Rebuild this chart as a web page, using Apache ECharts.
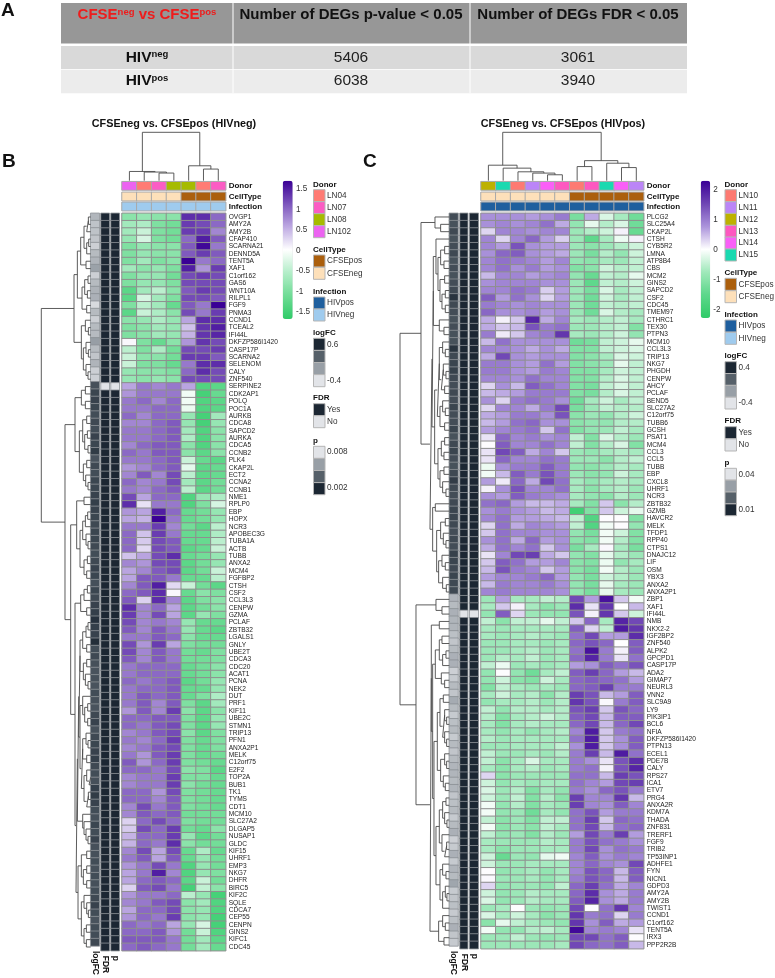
<!DOCTYPE html>
<html><head><meta charset="utf-8">
<style>html,body{margin:0;padding:0;background:#fff}#c{width:775px;height:978px}</style>
<script src="https://cdn.jsdelivr.net/npm/echarts@6/dist/echarts.min.js"></script>
</head><body><div id="c"></div>
<script>
const tableHead=['Number of DEGs p-value < 0.05','Number of DEGs FDR < 0.05'];
const tableRows=[['neg','5406','3061'],['pos','6038','3940']];

const genesB=['OVGP1','AMY2A','AMY2B','CFAP410','SCARNA21','DENND5A','TENT5A','XAF1','C1orf162','GAS6','WNT10A','RILPL1','FGF9','PNMA3','CCND1','TCEAL2','IFI44L','DKFZP586I1420','CASP17P','SCARNA2','SELENOM','CALY','ZNF540','SERPINE2','CDK2AP1','POLQ','POC1A','AURKB','CDCA8','SAPCD2','AURKA','CDCA5','CCNB2','PLK4','CKAP2L','ECT2','CCNA2','CCNB1','NME1','RPLP0','EBP','HOPX','NCR3','APOBEC3G','TUBA1A','ACTB','TUBB','ANXA2','MCM4','FGFBP2','CTSH','CSF2','CCL3L3','CENPW','GZMA','PCLAF','ZBTB32','LGALS1','GNLY','UBE2T','CDCA3','CDC20','ACAT1','PCNA','NEK2','DUT','PRF1','KIF11','UBE2C','STMN1','TRIP13','PFN1','ANXA2P1','MELK','C12orf75','E2F2','TOP2A','BUB1','TK1','TYMS','CDT1','MCM10','SLC27A2','DLGAP5','NUSAP1','GLDC','KIF15','UHRF1','EMP3','NKG7','DHFR','BIRC5','KIF2C','SQLE','CDCA7','CEP55','CENPN','GINS2','KIFC1','CDC45'];
const genesC=['PLCG2','SLC25A4','CKAP2L','CTSH','CYB5R2','LMNA','ATP8B4','CBS','MCM2','GINS2','SAPCD2','CSF2','CDC45','TMEM97','CTHRC1','TEX30','PTPN3','MCM10','CCL3L3','TRIP13','NKG7','PHGDH','CENPW','AHCY','PCLAF','BEND5','SLC27A2','C12orf75','TUBB6','GCSH','PSAT1','MCM4','CCL3','CCL5','TUBB','EBP','CXCL8','UHRF1','NCR3','ZBTB32','GZMB','HAVCR2','MELK','TFDP1','RPP40','CTPS1','DNAJC12','LIF','OSM','YBX3','ANXA2','ANXA2P1','ZBP1','XAF1','IFI44L','NMB','NKX2-2','IGF2BP2','ZNF540','ALPK2','GPCPD1','CASP17P','ADA2','GIMAP7','NEURL3','VNN2','SLC9A9','LY9','PIK3IP1','BCL6','NFIA','DKFZP586I1420','PTPN13','ECEL1','PDE7B','CALY','RPS27','ICA1','ETV7','PRG4','ANXA2R','KDM7A','THADA','ZNF831','TRERF1','FGF9','TRIB2','TP53INP1','ADHFE1','FYN','NICN1','GDPD3','AMY2A','AMY2B','TWIST1','CCND1','C1orf162','TENT5A','IRX3','PPP2R2B'];

const heatB=[
[-.9,-.8,-.9,-.9,1.4,1.4,1],[-.7,-.6,-1,-1.1,1.3,1.2,1],[-.7,-.4,-1,-1.1,1.3,1.3,.8],[-.8,-.3,-1,-1.1,1,1.5,1.1],[-1,-.8,-.9,-.9,1.1,1.65,.9],[-1,-.8,-.9,-.9,1.1,1.3,1.1],[-1,-.7,-1,-.9,1.7,.9,1],[-.7,-.9,-.8,-1,1.5,.7,1.3],[-1,-.8,-.8,-1.1,1.2,1.3,1.2],[-1,-.8,-.8,-1,1.2,1.2,1.2],
[-1.3,-.7,-.5,-.9,1.1,1.3,1.2],[-1.3,-.3,-.7,-1,1.2,1.2,1.1],[-1,-.5,-.7,-1.2,1.1,.9,1.7],[-1.3,-.4,-.6,-.9,1.2,.9,1.3],[-.9,-.8,-.6,-.8,.6,1.4,1.4],[-1,-.9,-.7,-.8,.4,1.35,1.5],[-1,-.9,-.7,-.8,.5,1.35,1.45],[.05,-1,-1.2,-.9,.7,1.35,1.2],[-.5,-1,-.6,-1.1,1.2,1.2,1.3],[-.4,-.9,-.9,-1.1,1.3,1.3,1.1],
[-.4,-1,-1,-1.2,.9,1.4,1.4],[-.8,-.9,-.9,-1,1,1.4,1.2],[-.8,-.9,-.8,-.9,1.2,1.2,1.2],[.6,.9,.8,.9,.6,-1.4,-1.3],[.7,.9,.9,.9,-.1,-1.5,-1.2],[.9,1,.8,1,-.1,-1.4,-1.3],[.9,.9,1,1,-.15,-1.4,-1.3],[1,.8,1,1,-.8,-1.5,-.7],[.8,.8,1,1.1,-.8,-1.5,-.8],[.9,.9,1,1.1,-.7,-1.4,-.9],
[.9,.9,1,1.1,-.6,-1.4,-.9],[.8,1,1.1,1.1,-.9,-1.4,-.9],[1,.9,1.1,1.1,-.9,-1.3,-.9],[.9,.9,1,1.1,-.4,-1.2,-1.3],[.7,.8,1,1.1,-.2,-1.3,-1.2],[.8,1.1,.8,1.2,-.5,-1.3,-1.2],[1,.8,.9,1.2,-.7,-1.3,-1.1],[.9,.8,1,1.1,-.5,-1.3,-1.1],[1.2,.6,1,1,-1.4,-.8,-.6],[1.4,.2,.9,.9,-1.4,-1,-.3],
[.7,.6,1.5,1,-1.2,-1.1,-.8],[.6,.5,1.7,.9,-1.2,-1.1,-.8],[.9,.9,1.3,.8,-1.1,-1.3,-.5],[1,.4,1.3,.9,-1.2,-1.2,-.6],[1,.35,1.2,1.1,-1.2,-1.2,-.5],[1,.25,1.2,1.1,-1.3,-1.2,-.4],[.4,.6,1.2,1.4,-1.2,-1.1,-.8],[.8,.7,1.2,1.2,-1.3,-1.1,-.8],[.6,.8,1.1,1.2,-1.3,-1.1,-.4],[.6,1.1,1.1,.9,-1.2,-1.2,-.5],
[.8,1.1,1.5,.25,-.4,-1.1,-1.3],[1,1.1,1.4,.05,-1.2,-.9,-1],[1.1,.3,1.4,.8,-1.3,-1,-.9],[1.4,.8,1,.6,-1.3,-1.1,-.9],[1.3,.8,1.2,.6,-1.3,-.8,-1],[1.2,.8,.9,.8,-.8,-1.2,-1.2],[1.1,.8,1.1,.9,-.8,-1.2,-1.3],[.9,.9,1.1,1,-.9,-1.2,-1.2],[1.2,.7,1.3,.6,-1,-1.1,-1.1],[1.2,.8,1.1,.9,-1.1,-1.2,-1],
[1.1,.8,1.1,.9,-1.1,-1.1,-1],[.9,1,1,1,-1.2,-1.1,-.9],[.9,1,1,1,-1.2,-1.1,-.9],[1,.9,1,1.1,-1.3,-1.1,-.8],[.9,1,1,1.1,-1.2,-1.2,-.8],[.9,1.1,1,1.1,-1.2,-1,-.6],[.9,1.1,.8,1.1,-1,-1.3,-.7],[.7,1.1,.8,1.3,-.9,-1.3,-.9],[1,1,1.1,1.1,-1,-1.3,-.8],[1,.9,1.1,1.2,-1,-1.3,-.8],
[.8,.9,1.1,1.2,-.9,-1.3,-1],[.9,.8,1,1.3,-1,-1.2,-1],[.8,.9,1.1,1.2,-1,-1.2,-1],[.9,.7,1.1,1.3,-1,-1.2,-1.1],[1.1,.7,1,1.3,-1,-1.1,-1.2],[1,1,.9,1.2,-.9,-1,-1.3],[.8,.9,.9,1.3,-1,-1,-1.2],[.8,.9,.9,1.3,-.9,-1.1,-1.2],[1,1,.7,1.2,-1,-1.1,-1.2],[1,1,.8,1.1,-1,-1.1,-1.2],
[.8,1.2,.9,1.1,-1,-1.1,-1.2],[.8,1.1,1,1.1,-1.1,-1.1,-1.1],[.3,1,1.2,1,-1,-1.1,-1.1],[.35,1.2,1,1.3,-1.1,-1.2,-.9],[.5,1,1,1.3,-.8,-1.3,-1.1],[.5,1,.9,1.4,-.9,-1.1,-1.1],[.8,1.2,.6,1.2,-1.2,-.6,-1.2],[.9,1.1,.6,1.1,-1.2,-.8,-1.1],[.7,.9,1.2,.9,-1.4,-.8,-1.1],[.6,.9,1.5,.8,-1.4,-.8,-1],
[.6,1,1.1,1,-1.3,-.4,-1.1],[.3,1.1,1.2,.9,-1.5,-.45,-.9],[.7,.9,.9,1,-.5,-.8,-1.5],[.8,.9,1.1,1.2,-.9,-.7,-1.4],[.6,1,1,1.2,-.9,-.8,-1.4],[.7,1,.9,1.3,-.9,-.8,-1.5],[1,.9,1,.6,-.8,-.3,-1.5],[1,1,1.1,.7,-1.1,-.4,-1.4],[1.1,1.1,1.1,.9,-1.1,-.7,-1.3],[1,1.1,1,.9,-1.1,-.7,-1.2]];

const heatC=[
[.8,.8,.8,.7,.8,1,-1.2,.6,-.3,-.7,-1.3],[.8,.9,.8,.9,1.1,.6,-.9,-.2,-.6,-.3,-1.3],[.3,.9,.9,.8,.9,.9,-.8,-.6,-.4,.1,-1.4],[.9,.3,.9,1.2,.7,.35,-.8,-1.5,-.7,-.15,.1],[.9,.7,1.4,.8,.7,.7,-.8,-1,-.8,-.6,-.4],[.8,1.2,1.3,.8,.7,.6,-.8,-1.2,-.6,-.9,-.4],[.9,1.1,1,.9,.7,.9,-.9,-1,-.7,-.8,-.5],[.9,1.1,.8,1,.7,.8,-1.1,-1,-.4,-.6,-.5],[.5,.9,.9,.7,.8,.9,-.9,-1.4,-.5,-.6,-.2],[.8,.9,.9,.9,.8,.8,-.8,-1.5,-.5,-.6,-.4],
[.9,.9,1.1,1,.35,.7,-.8,-1.2,-.3,-.7,-.5],[1.3,.7,1.1,.8,.3,.7,-.8,-1.3,-.4,-.7,-.5],[1,.9,.8,.9,.8,.8,-.8,-1.3,-.5,-.6,-.5],[1.2,.8,.8,.9,.7,.8,-.8,-1.3,-.3,-.6,-.7],[.6,.1,.4,1.9,.6,.9,-.7,-.8,-.6,-.5,-.7],[.6,.4,.5,1.4,1,1.1,-.8,-.8,-.6,-.5,-1.1],[1,.15,.4,.9,1,1.7,-.7,-.8,-.6,-.4,-.9],[.5,1.1,.8,.8,.8,.8,-1.3,-1.2,-.5,-.4,-.2],[.9,.9,.8,.6,.8,.6,-1.1,-1.1,-.5,-.4,-.3],[.6,1.5,.8,.7,.8,.8,-1.1,-1,-.7,-.3,-.4],
[1,1,.8,.7,1.1,.7,-1.1,-1,-.8,-.2,-.5],[1,1,.8,.7,1,.9,-1.1,-1.1,-.7,-.4,-.5],[.9,.9,.8,1.1,.9,.9,-1.1,-1.1,-.6,-.3,-.5],[.3,.8,.5,1.3,1.1,.9,-1.1,-1.2,-.5,-.3,-.5],[.5,.6,.7,1,1,1,-1.1,-1.2,-.6,-.3,-.5],[.8,.3,1,1.1,1,.8,-1.3,-.7,-.4,-.7,-.5],[.3,.9,.9,.6,1,1.5,-1.2,-.8,-.5,-.6,-.6],[.6,.7,1,1,.8,1.4,-1,-.8,-.9,-.6,-.4],[.5,.7,1.1,1.2,.8,.8,-1,-.9,-.9,-.6,-.6],[.7,.9,1,1.1,.4,1.1,-1.1,-.9,-.8,-.5,-.7],
[.2,1.2,.9,1,.8,.9,-.5,-1.1,-.3,-.6,-.8],[.02,1.3,.9,.9,1.1,.9,-.5,-1.1,-.6,-.3,-1.1],[.2,1.5,1.3,.6,.9,.4,-.8,-.9,-.7,-.6,-.7],[.2,1.2,.9,.9,1.1,1,-.8,-.8,-1,-.6,-.5],[-.15,.8,1,1,1.3,1,-.9,-1,-.8,-.6,-.7],[-.1,.5,1.3,1,1.4,1,-.8,-1,-.9,-.4,-.7],[.7,.15,1.2,.6,1.5,1.1,-.7,-.9,-.7,-.6,-.7],[.1,.8,1.4,.9,.9,1.1,-.7,-1,-.7,-.6,-.8],[.8,.7,1.3,1,.9,.8,-.7,-.9,-1,-.6,-.8],[1.1,1.2,.7,.5,.5,.6,-.7,-1.1,.4,-1,-.6],
[.8,1,.8,.7,.5,.6,-2,-1.1,.4,-.4,-.2],[.9,1.1,.7,.7,.6,.5,-.5,-1.7,.02,.02,-1.1],[.3,1.1,.6,.9,.8,.7,-.5,-1.7,-.1,.02,-.9],[.4,1.1,.9,.9,.8,.8,-.9,-1.2,-.1,-.4,-1.1],[.8,1.1,.6,1.2,.7,.8,-1,-1.1,-.1,-.6,-1.1],[.6,1.1,.9,1.1,.4,.8,-1.2,-.7,.05,-.7,-1.2],[.2,.9,1.5,1.6,.6,.4,-.9,-1.1,-.2,-.6,-.8],[.4,1.3,1.1,.7,.7,.9,-1,-1.1,-.15,-.9,-.7],[.5,1.4,1,.9,.4,.7,-1,-1.2,-.1,-.6,-.8],[.7,.9,.9,1,1.2,.7,-.9,-1.2,-.4,-.6,-.8],
[.5,1,.9,.9,1,.8,-.9,-1.2,-.2,-.7,-.8],[.9,1,.9,.9,.9,.8,-.9,-1.2,-.2,-.7,-.8],[-.8,.7,-.7,-.7,-.5,-.6,1.5,.7,2.1,.4,-.1],[-.7,.4,.1,-.7,-1,-.8,1.8,.2,1.7,0,.5],[-.9,1.3,.3,-.8,-.9,-.9,1.4,.1,1.7,.4,-.4],[-.5,-1,-.5,-.5,-.2,-.5,.4,1.2,-.7,1.9,1.5],[-.7,-.8,-.7,-.7,-.7,-.7,1.3,.3,-.5,2,1.7],[-.7,-.8,-.7,-.6,-.7,-.8,1.1,1.5,.7,.7,1.8],[-.8,-.8,-.7,-.7,-.8,-.7,1.2,1.4,1.2,0,1.3],[-.8,-.8,-.7,-.6,-.8,-.7,1.1,2.1,1,.1,1.3],
[-.8,-.6,-.7,-.5,-.8,-.7,1.2,1.9,1,.2,1.1],[-.5,-.15,-.8,-.7,-.8,-.7,.7,.8,1.3,1.1,1.4],[-.9,.02,-.9,-1.3,-.7,-.5,1.3,1.6,1.2,.7,.5],[-.9,-.4,-1,-1.1,-.4,-.7,1.2,1.3,1.2,1.1,.7],[-1.1,-.5,-.7,-.8,-.7,-.8,1.2,1.3,1.6,1,1],[-.7,-.4,-.7,-.6,-1,-.6,1.6,1.4,.5,.7,1.3],[-.9,-.7,-.7,-.6,-.8,-.6,1.7,1.4,.05,1,1.3],[-.5,-.9,-.6,-.6,-.7,-.6,1.4,1.6,.4,1.4,1.2],[-.6,-1.1,-.7,-.6,-.4,-.6,1.3,1.5,.5,1.3,1.3],[-.7,-1.1,-.7,-.6,-.7,-.7,1.2,1.5,.5,1.2,1.5],
[-.7,-.9,-.7,-.9,-.7,-.6,.9,2,.4,1,1.1],[-.6,-.8,-.7,-.7,-.7,-.7,1.1,2,.4,.8,1.3],[-.8,-.8,-.7,-.7,-.7,-.5,.8,2,.4,.8,1.3],[-.5,-.8,-.8,-.7,-.8,-.6,1,1.6,.5,2,1.1],[-.5,-1,-.7,-.3,-.7,-.7,1,.8,.2,1.4,1.8],[-.7,-1,-.7,-.6,-.8,-.7,1,1.1,.1,1.4,1.9],[.3,-1,-.8,-.8,-.8,-.8,1.1,1.1,.5,1.6,1.4],[-.4,-.9,-.7,-.8,-.7,-.7,1.1,.9,.7,1.5,1.6],[-.3,-.8,-.6,-1.1,-.7,-.9,1,.8,1.2,1.4,1],[-.4,-.8,-.5,-1.1,-.6,-1,1.6,.9,.9,1.7,.5],
[-.1,-.9,-.6,-1.1,-.7,-.8,1.6,.9,.8,1.3,.9],[-.1,-.9,-.8,-1.3,-.7,-.9,1.1,1.4,.7,1,1],[-.5,-1,-.8,-1.1,-.5,-.5,1.1,1.6,.4,1.2,1.1],[-.1,-1,-.8,-1,-.5,-.7,1.1,1.5,.5,1.1,1.2],[-.5,-.9,-.8,-1.1,-.6,-.8,.7,1.5,1,1.6,.7],[-.7,-.8,-.8,-.8,-.6,-.7,1,1.4,1.1,1,.8],[-.7,-1,-.8,-.8,-.7,-.7,1,1.5,.8,1.1,1],[-.4,-1.4,-.8,-.9,-.2,-.1,.9,1.3,.8,1,.9],[-.4,-.8,-.8,-.7,-.7,-.7,.9,1.2,.9,.8,1.5],[.02,-.9,-.8,-.7,-.9,-.7,.9,1.4,1.2,.5,1.3],
[.05,-.8,-.8,-.7,-.9,-.7,1,1.4,1.2,.5,1.3],[.3,-.9,-.8,-.8,-.9,-.5,1.2,1.6,1.1,.6,.9],[-.4,-.9,-.8,-.6,-.7,-.7,1.2,1.8,.8,.6,1],[-.3,-.9,-.8,-.6,-.7,-.7,1.3,1.9,.8,.6,1],[-.8,-.7,.02,-.8,-.9,-.8,1.5,.02,1.1,1.7,.9],[-.3,-.7,-.4,-.7,-1,-.8,1.7,1,1.1,.3,1],[-1,-.2,-.5,-.7,-.8,-.9,1.7,.8,1.3,.6,.7],[-.1,-.9,-.9,-.6,-.5,-.7,2.2,.9,1,.9,.2],[-.8,-.8,-.5,-.8,-.9,-.8,1.5,1.5,1.1,1.3,.02],[-.8,-.8,-.8,-.8,-.8,-.7,1.5,1.2,1.1,1.3,.5]];

const logfcB=[-.18,-.24,-.24,-.25,-.3,-.2,-.17,-.08,-.3,-.2,-.16,-.15,-.35,-.2,-.3,-.2,-.2,-.06,-.2,-.25,-.17,-.3,-.3,.36,.42,.44,.42,.38,.4,.38,.44,.42,.48,.35,.4,.38,.42,.42,.44,.46,.44,.42,.4,.42,.42,.4,.38,.4,.44,.42,.36,.42,.4,.44,.46,.54,.46,.44,.56,.38,.4,.36,.34,.36,.34,.38,.36,.34,.4,.44,.36,.4,.42,.44,.46,.4,.38,.36,.46,.48,.44,.38,.36,.42,.38,.44,.36,.36,.38,.36,.38,.36,.38,.4,.44,.38,.34,.38,.38,.4];
const logfcC=[.22,.2,.24,.2,.22,.24,.2,.22,.2,.22,.24,.34,.24,.22,.2,.22,.2,.2,.34,.24,.26,.28,.24,.22,.24,.22,.26,.22,.22,.26,.2,.24,.26,.22,.2,.24,.3,.24,.22,.24,.26,.26,.24,.22,.24,.22,.28,.26,.24,.26,.24,.24,-.22,-.24,-.2,-.22,-.22,-.26,-.28,-.24,-.2,-.2,-.32,-.3,-.24,-.28,-.18,-.24,-.3,-.26,-.24,-.3,-.24,-.28,-.24,-.22,-.22,-.24,-.22,-.28,-.26,-.24,-.3,-.24,-.2,-.32,-.3,-.2,-.3,-.22,-.24,-.16,-.3,-.28,-.26,-.3,-.26,-.2,-.28,-.3];
const fdrNoB=['SERPINE2'];
const fdrNoC=['IFI44L'];
const pB=[.002,.002,.002,.002,.002,.002,.002,.002,.002,.002,.002,.002,.002,.002,.002,.002,.002,.002,.002,.002,.002,.002,.002,.008,.002,.002,.002,.002,.002,.002,.002,.002,.002,.002,.002,.002,.002,.002,.002,.002,.002,.002,.002,.002,.002,.002,.002,.002,.002,.002,.002,.002,.002,.002,.002,.002,.002,.002,.002,.002,.002,.002,.002,.002,.002,.002,.002,.002,.002,.002,.002,.002,.002,.002,.002,.002,.002,.002,.002,.002,.002,.002,.002,.002,.002,.002,.002,.002,.002,.002,.002,.002,.002,.002,.002,.002,.002,.002,.002,.002];
const pC=[.01,.01,.01,.01,.01,.01,.01,.01,.01,.01,.01,.01,.01,.01,.01,.01,.01,.01,.01,.01,.01,.01,.01,.01,.01,.01,.01,.01,.01,.01,.01,.01,.01,.01,.01,.01,.01,.01,.01,.01,.01,.01,.01,.01,.01,.01,.01,.01,.01,.01,.01,.01,.01,.01,.04,.01,.01,.01,.01,.01,.01,.01,.01,.01,.01,.01,.01,.01,.01,.01,.01,.01,.01,.01,.01,.01,.01,.01,.01,.01,.01,.01,.01,.01,.01,.01,.01,.01,.01,.01,.01,.01,.01,.01,.01,.01,.01,.01,.01,.01];

const donorB=['LN102','LN04','LN07','LN08','LN08','LN04','LN07'];
const cellB=['CFSEneg','CFSEneg','CFSEneg','CFSEneg','CFSEpos','CFSEpos','CFSEpos'];
const infB=['HIVneg','HIVneg','HIVneg','HIVneg','HIVneg','HIVneg','HIVneg'];
const donorC=['LN12','LN15','LN10','LN11','LN14','LN13','LN10','LN13','LN15','LN14','LN11'];
const cellC=['CFSEneg','CFSEneg','CFSEneg','CFSEneg','CFSEneg','CFSEneg','CFSEpos','CFSEpos','CFSEpos','CFSEpos','CFSEpos'];
const infC=['HIVpos','HIVpos','HIVpos','HIVpos','HIVpos','HIVpos','HIVpos','HIVpos','HIVpos','HIVpos','HIVpos'];

const annColors={LN04:'#ff7b74',LN07:'#fb5cc4',LN08:'#a6bb00',LN102:'#ec63f1',LN10:'#fd7a72',LN11:'#bb85f7',LN12:'#bdb100',LN13:'#fd58c0',LN14:'#fa5ff7',LN15:'#1ad9b0',CFSEpos:'#ab5f0d',CFSEneg:'#fde0ba',HIVpos:'#1f5f9e',HIVneg:'#9fcbee'};
const greys=['#e2e4e8','#989fa6','#566069','#1c2733'];
const paletteB=['#2fcb68','#6fdc95','#b2edc8','#ffffff','#bda9e2','#7c55bc','#3a0095'];
const paletteC=['#2fcb68','#5cd78a','#9fe8ba','#ffffff','#ab93db','#6e45b4','#3a0095'];

// Dendrograms: [height, left, right]; 0 is a leaf, leaves run in row / column order
const colTreeB=[48.7,[9.3,0,[8.7,0,[7.7,0,0]]],[15,0,[11.7,0,0]]];
const colTreeC=[49,[15.7,0,[12.7,0,[9,0,[7.7,0,[6,0,0]]]]],[20.3,[14.3,0,0],[17.7,0,[13.3,0,0]]]];

const e1=[24,[14,[8,0,0],0],[12,0,0]],e2=[22,[12,0,0],[16,0,[8,0,0]]],e3=[24,0,[18,[9,0,0],[9,0,0]]],e4=[24,[14,0,[8,0,0]],[12,0,0]],e5=[20,[12,0,[5,0,0]],[12,[7,0,0],0]],e6=[24,0,[20,0,[14,0,[8,0,0]]]],f1=[28,[12,0,0],[22,[12,0,0],[12,0,0]]],f2=[28,[20,0,[12,0,[7,0,0]]],[20,[13,0,0],[13,0,0]]];
const rowTopB=[50,[40,[30,[20,[12,[7,0,0],0],[12,[6,0,0],0]],[14,0,0]],[26,[18,[8,0,0],[10,0,0]],[12,0,0]]],[28,[16,0,[7,0,0]],[22,[14,0,[7,0,0]],[14,0,[8,0,0]]]]];
const rowA=[47,[28,[16,0,0],[16,0,0]],[34,[24,[12,0,0],[18,[10,0,0],[8,0,0]]],[22,[12,0,0],[15,0,[8,0,0]]]]];
const rowCC=[42,[20,0,0],[32,[24,[16,[9,0,0],0],[14,0,[8,0,0]]],[20,[10,0,0],[12,0,0]]]];
const rowD=[47,[30,[20,[10,0,0],0],[12,0,0]],[44,[40,[36,[32,e1,e2],[32,e3,[28,e4,e5]]],e6],[38,f1,f2]]];
const rowTreeB=[148,rowTopB,[77,rowA,[60,rowCC,rowD]]];

const g0=[43,0,[26,0,0]],g1=[40,0,[34,[26,[14,0,0],[16,0,0]],[28,[14,0,0],[22,[12,0,0],[12,0,0]]]]],g2=[30,0,[16,0,0]],g3=[36,[30,[20,0,[12,0,0]],[24,[18,0,[10,0,0]],[14,0,0]]],[28,[20,0,[12,0,0]],[14,0,0]]],g4=[34,[24,[14,0,0],[16,0,0]],[28,[16,0,0],[20,0,[10,0,0]]]],g5=[42,0,0],g6=[38,[26,[12,0,0],[18,0,[10,0,0]]],[32,[22,0,[12,0,0]],[20,0,[9,0,0]]]];
const b1=[40,0,[22,0,0]],b2=[30,0,0],b3=[30,[22,0,0],[20,[10,0,0],0]],b4=[24,0,[14,0,0]],b6=[36,[28,[18,0,0],[20,[14,0,[8,0,0]],[14,0,[8,0,0]]]],[26,[14,0,[8,0,0]],[18,0,[12,0,0]]]],b7=[30,[20,[10,0,0],[14,0,[7,0,0]]],[22,0,[14,[8,0,0],0]]],b8=[28,[20,0,[10,0,0]],[20,[12,0,[7,0,0]],0]],b9=[32,[20,0,[12,0,0]],[16,0,0]];
const rowTreeC=[148,[85,g0,[58,[52,[48,g1,g2],[44,g3,g4]],[50,g5,g6]]],[100,b1,[58,[54,b2,[50,[42,b3,b4],[46,b6,[40,b7,b8]]]],b9]]];

const FONT='"Liberation Sans",Arial,sans-serif';
const grid=[],xAxis=[],yAxis=[],series=[],graphic=[];
const hide={show:false};
function mix(a,b,t){const p=s=>[1,3,5].map(i=>parseInt(s.substr(i,2),16));const A=p(a),B=p(b);return 'rgb('+A.map((v,i)=>Math.round(v+(B[i]-v)*t)).join(',')+')';}
function greyOf(t){t=Math.max(0,Math.min(1,t))*3;const i=Math.min(2,Math.floor(t));return mix(greys[i],greys[i+1],t-i);}
function addHeat(box,xCats,yCats,data,o){
  o=o||{};
  const i=grid.length;
  grid.push({left:box[0],top:box[1],width:box[2]-box[0],height:box[3]-box[1],containLabel:false});
  xAxis.push({gridIndex:i,type:'category',data:xCats,position:'bottom',axisLine:hide,axisTick:hide,splitLine:hide,
    axisLabel:o.xLabel?{show:true,interval:0,rotate:-90,margin:5,align:'left',verticalAlign:'middle',fontFamily:FONT,fontSize:8.5,fontWeight:'bold',color:'#111'}:hide});
  yAxis.push({gridIndex:i,type:'category',data:yCats,inverse:true,position:'right',axisLine:hide,axisTick:hide,splitLine:hide,
    axisLabel:o.yLabel?Object.assign({show:true,interval:0,margin:3,fontFamily:FONT,color:'#222',hideOverlap:false},o.yLabel):hide});
  series.push({type:'heatmap',xAxisIndex:i,yAxisIndex:i,data:data,progressive:0,animation:false,silent:true,
    itemStyle:{borderColor:o.border||'#8f8f8f',borderWidth:o.bw===undefined?1:o.bw},emphasis:{disabled:true}});
  return series.length-1;
}
function treeSeries(box,tree,n,vertical){
  const i=grid.length,pts=[];let cur=0;
  const P=(h,p)=>vertical?[p,h]:[h,p];
  (function walk(nd){
    if(nd===0){cur++;return {p:cur-.5,h:0};}
    const l=walk(nd[1]),r=walk(nd[2]),h=nd[0];
    pts.push(P(l.h,l.p),P(h,l.p),P(h,r.p),P(r.h,r.p),['-','-']);
    return {p:(l.p+r.p)/2,h:h};
  })(tree);
  grid.push({left:box[0],top:box[1],width:box[2]-box[0],height:box[3]-box[1]});
  const hAx={min:0,max:tree[0]},pAx={min:0,max:n};
  xAxis.push(Object.assign({gridIndex:i,type:'value',show:false,inverse:!vertical},vertical?pAx:hAx));
  yAxis.push(Object.assign({gridIndex:i,type:'value',show:false,inverse:!vertical},vertical?hAx:pAx));
  series.push({type:'line',xAxisIndex:i,yAxisIndex:i,data:pts,showSymbol:false,symbol:'none',connectNulls:false,clip:false,silent:true,animation:false,
    lineStyle:{color:'#4a4a4a',width:.9},emphasis:{disabled:true}});
}
function panel(L){
  const cols=L.donor.length;
  const cats=L.donor.map((d,i)=>String(i));
  const data=[];L.heat.forEach((row,y)=>row.forEach((v,x)=>data.push([x,y,v])));
  const idx=addHeat([L.hx0,L.top,L.hx1,L.bot],cats,L.genes,data,{yLabel:{fontSize:6.6}});
  [['Donor',L.donor,181.7,190],['CellType',L.cell,192.3,200.7],['Infection',L.inf,202.3,210.7]].forEach(a=>{
    addHeat([L.hx0,a[2],L.hx1,a[3]],cats,[a[0]],a[1].map((k,x)=>({value:[x,0,1],itemStyle:{color:annColors[k]}})),
      {border:'#a9a9a9',yLabel:{fontSize:8,fontWeight:'bold',color:'#111'}});
  });
  const side=[['logFC',L.logfc.map(v=>greyOf((v-L.lfMin)/(L.lfMax-L.lfMin)))],
    ['FDR',L.genes.map(g=>L.fdrNo.includes(g)?greys[0]:greys[3])],
    ['p',L.p.map(v=>greyOf((L.pMax-v)/(L.pMax-L.pMin)))]];
  side.forEach((s,k)=>{
    addHeat([L.xs[k][0],L.top,L.xs[k][1],L.bot],[s[0]],L.genes,s[1].map((c,y)=>({value:[0,y,1],itemStyle:{color:c}})),{border:'#8b9095',bw:.8,xLabel:true});
  });
  treeSeries([L.hx0,132.3,L.hx1,180.7],L.colTree,cols,true);
  treeSeries([L.rootX,L.top,L.xs[0][0],L.bot],L.rowTree,L.genes.length,false);
  return idx;
}
function txt(s,x,y,size,o){o=o||{};graphic.push({type:'text',x:x,y:y,silent:true,style:Object.assign({text:s,fontFamily:FONT,fontSize:size,fontWeight:o.bold?'bold':'normal',fill:o.fill||'#222',textAlign:o.align||'left',textVerticalAlign:'middle'},o.extra||{})});}
function rect(x,y,w,h,fill,stroke){graphic.push({type:'rect',silent:true,shape:{x:x,y:y,width:w,height:h},style:{fill:fill,stroke:stroke||null,lineWidth:stroke?1:0}});}
function swatchLegend(x,title,ty,items){
  txt(title,x,ty,8,{bold:true,fill:'#111'});
  items.forEach(it=>{rect(x+.5,it[1]-6,11.5,12,annColors[it[0]],'#b5b5b5');txt(it[0],x+14,it[1],8.2,{fill:'#333'});});
}
function greyLegend(x,title,ty,y0,y1,labels,cols){
  txt(title,x,ty,8,{bold:true,fill:'#111'});
  const h=(y1-y0)/cols.length;
  cols.forEach((c,i)=>rect(x+.5,y0+i*h,11.5,h,c,'#b5b5b5'));
  labels.forEach(l=>txt(l[0],x+14,l[1],8.2,{fill:'#333'}));
}

// Table
rect(61,3,626,40.5,'#979797');rect(61,46,626,23,'#d9d9d9');rect(61,69.7,626,23.6,'#ececec');
[233,470].forEach(x=>graphic.push({type:'line',silent:true,shape:{x1:x,y1:3,x2:x,y2:93.3},style:{stroke:'#fff',lineWidth:1}}));
const hdrFont={fontFamily:FONT,fontWeight:'bold'};
graphic.push({type:'text',x:147,y:15,silent:true,style:{text:'{b|CFSE}{s|neg}{b| vs CFSE}{s|pos}',textAlign:'center',textVerticalAlign:'middle',
  rich:{b:Object.assign({fontSize:15,fill:'#ee1c1c'},hdrFont),s:Object.assign({fontSize:9.5,fill:'#ee1c1c',verticalAlign:'top'},hdrFont)}}});
txt(tableHead[0],351,15,15,{bold:true,align:'center',fill:'#111'});
txt(tableHead[1],578,15,15,{bold:true,align:'center',fill:'#111'});
tableRows.forEach((r,i)=>{
  const y=[57.5,81][i];
  graphic.push({type:'text',x:147,y:y,silent:true,style:{text:'{b|HIV}{s|'+r[0]+'}',textAlign:'center',textVerticalAlign:'middle',
    rich:{b:Object.assign({fontSize:15.5,fill:'#111'},hdrFont),s:Object.assign({fontSize:9.5,fill:'#111',verticalAlign:'top'},hdrFont)}}});
  txt(r[1],351,y,15.5,{align:'center',fill:'#222'});txt(r[2],578,y,15.5,{align:'center',fill:'#222'});
});
txt('A',1,11,19,{bold:true,fill:'#111'});txt('B',2,162,19,{bold:true,fill:'#111'});txt('C',363,162,19,{bold:true,fill:'#111'});
txt('CFSEneg vs. CFSEpos (HIVneg)',174,124.5,10.8,{bold:true,align:'center',fill:'#111'});
txt('CFSEneg vs. CFSEpos (HIVpos)',563,124.5,10.8,{bold:true,align:'center',fill:'#111'});

const iB=panel({heat:heatB,genes:genesB,donor:donorB,cell:cellB,inf:infB,logfc:logfcB,p:pB,fdrNo:fdrNoB,lfMin:-.4,lfMax:.6,pMin:.002,pMax:.008,
  hx0:122,hx1:225.7,top:213.3,bot:950.7,xs:[[90.7,99.3],[101,109.3],[111,119.3]],rootX:41.3,colTree:colTreeB,rowTree:rowTreeB});
const iC=panel({heat:heatC,genes:genesC,donor:donorC,cell:cellC,inf:infC,logfc:logfcC,p:pC,fdrNo:fdrNoC,lfMin:-.4,lfMax:.4,pMin:.01,pMax:.04,
  hx0:481,hx1:643.7,top:213.3,bot:948.7,xs:[[449.3,458],[460,467.7],[469.7,478.3]],rootX:400,colTree:colTreeC,rowTree:rowTreeC});

[['1.5',189],['1',209.3],['0.5',229.7],['0',250.3],['-0.5',270.7],['-1',291.3],['-1.5',311.7]].forEach(l=>txt(l[0],296,l[1],8.2,{fill:'#333'}));
[['2',190],['1',220],['0',250],['-1',279.5],['-2',310]].forEach(l=>txt(l[0],713.3,l[1],8.2,{fill:'#333'}));

swatchLegend(313,'Donor',184.3,[['LN04',195.7],['LN07',207.7],['LN08',219.7],['LN102',231.7]]);
swatchLegend(313,'CellType',249.7,[['CFSEpos',261],['CFSEneg',273.3]]);
swatchLegend(313,'Infection',291.3,[['HIVpos',303],['HIVneg',315]]);
greyLegend(313,'logFC',332.7,338.3,386.7,[['0.6',344.3],['-0.4',380.3]],[greys[3],greys[2],greys[1],greys[0]]);
greyLegend(313,'FDR',398,403.7,427.7,[['Yes',409.7],['No',421.7]],[greys[3],greys[0]]);
greyLegend(313,'p',440.7,446.3,494.7,[['0.008',452],['0.002',488]],[greys[0],greys[1],greys[2],greys[3]]);

swatchLegend(724.5,'Donor',184.3,[['LN10',195.7],['LN11',207.7],['LN12',219.3],['LN13',231.3],['LN14',243],['LN15',255]]);
swatchLegend(724.5,'CellType',272.7,[['CFSEpos',284.3],['CFSEneg',296.7]]);
swatchLegend(724.5,'Infection',314.3,[['HIVpos',326],['HIVneg',338.3]]);
greyLegend(724.5,'logFC',356,361.7,409,[['0.4',367.3],['-0.4',402.7]],[greys[3],greys[2],greys[1],greys[0]]);
greyLegend(724.5,'FDR',420.7,426.7,451,[['Yes',432.7],['No',445]],[greys[3],greys[0]]);
greyLegend(724.5,'p',462.7,468.3,515.7,[['0.04',474.7],['0.01',510]],[greys[0],greys[1],greys[2],greys[3]]);

const chart=echarts.init(document.getElementById('c'),null,{renderer:'canvas',width:775,height:978});
chart.setOption({animation:false,backgroundColor:'#fff',grid,xAxis,yAxis,series,graphic:{elements:graphic},
  visualMap:[
   {type:'continuous',seriesIndex:iB,dimension:2,min:-1.7,max:1.7,calculable:false,left:282.7,top:180.7,itemWidth:10,itemHeight:138.3,padding:0,inRange:{color:paletteB},text:null,hoverLink:false},
   {type:'continuous',seriesIndex:iC,dimension:2,min:-2.3,max:2.3,calculable:false,left:700.7,top:180.7,itemWidth:9.5,itemHeight:137.3,padding:0,inRange:{color:paletteC},text:null,hoverLink:false}
  ]});
</script></body></html>
